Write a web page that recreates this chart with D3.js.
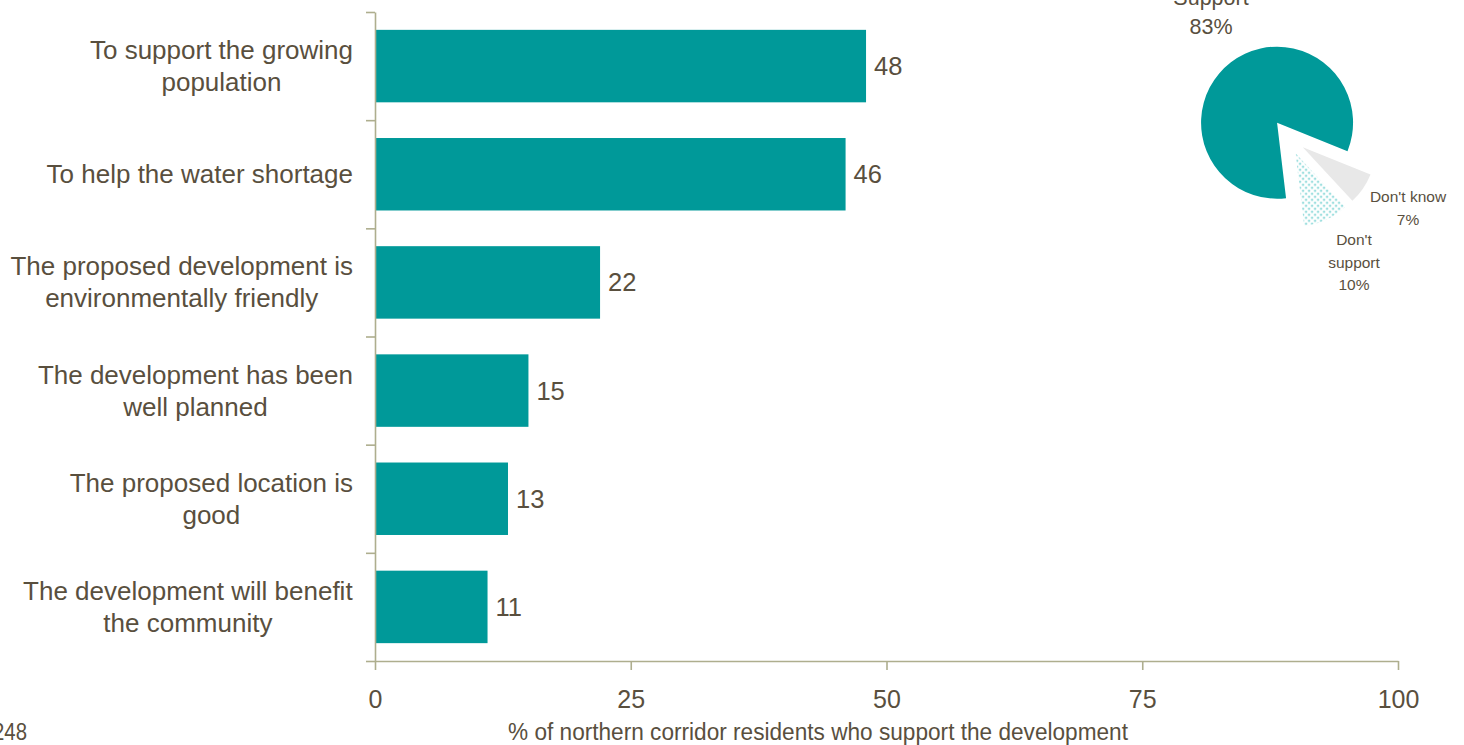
<!DOCTYPE html>
<html><head><meta charset="utf-8">
<script src="https://cdn.jsdelivr.net/npm/d3@7"></script>
<style>
html,body{margin:0;padding:0;background:#fff;}
svg{display:block;}
</style></head>
<body>
<svg id="chart" width="1464" height="745"></svg>
<script>
const categories = [
  ["To support the growing", "population"],
  ["To help the water shortage"],
  ["The proposed development is", "environmentally friendly"],
  ["The development has been", "well planned"],
  ["The proposed location is", "good"],
  ["The development will benefit", "the community"]
];
const values = [48, 46, 22, 15, 13, 11];
const xTicks = [0, 25, 50, 75, 100];
const axisTitle = "% of northern corridor residents who support the development";
const baseNote = "248";
const pieLabels = [["Don't know", "7%"], ["Don't", "support", "10%"], ["Support", "83%"]];
const pieValues = [7, 10, 83];

const teal = "#009999";
const textCol = "#594f3e";
const axisCol = "#aeae8e";
const font = "'Liberation Sans', Arial, sans-serif";

const svg = d3.select("#chart");
const defs = svg.append("defs");
const pat = defs.append("pattern").attr("id", "dots").attr("patternUnits", "userSpaceOnUse")
  .attr("width", 6).attr("height", 6);
pat.append("rect").attr("width", 6).attr("height", 6).attr("fill", "#fff");
pat.append("circle").attr("cx", 1.5).attr("cy", 1.5).attr("r", 0.9).attr("fill", "#4cc4c4");
pat.append("circle").attr("cx", 4.5).attr("cy", 4.5).attr("r", 0.9).attr("fill", "#4cc4c4");

const x = d3.scaleLinear().domain([0, 100]).range([375, 1398]);
const y = d3.scaleBand().domain(d3.range(categories.length)).range([12, 661]).paddingInner(0.33).paddingOuter(0.165);
const yEdge = d3.scaleLinear().domain([0, categories.length]).range([12, 661]);

// bars
svg.append("g").selectAll("rect").data(values).join("rect")
  .attr("x", x(0)).attr("y", (d, i) => y(i))
  .attr("width", d => x(d) - x(0)).attr("height", y.bandwidth())
  .attr("fill", teal);

// value labels
svg.append("g").selectAll("text").data(values).join("text")
  .attr("x", d => x(d) + 8).attr("y", (d, i) => y(i) + y.bandwidth() / 2 + 9)
  .attr("font-family", font).attr("font-size", 25.5).attr("fill", textCol)
  .text(d => d);

// y axis (ticks at band edges)
const yAxis = svg.append("g").attr("transform", `translate(${x(0)},0)`)
  .call(d3.axisLeft(yEdge).tickValues(d3.range(categories.length + 1)).tickSize(9).tickSizeOuter(0).tickFormat(""));
// x axis
const xAxis = svg.append("g").attr("transform", `translate(0,${yEdge(categories.length)})`)
  .call(d3.axisBottom(x).tickValues(xTicks).tickSize(9).tickSizeOuter(0).tickPadding(20));
[yAxis, xAxis].forEach(g => {
  g.selectAll("path,line").attr("stroke", axisCol).attr("stroke-width", 1.6);
});
xAxis.selectAll("text").attr("font-family", font).attr("font-size", 25).attr("fill", textCol);

// category labels (centered multi-line, right edge at 352)
const labG = svg.append("g");
categories.forEach((lines, i) => {
  const cy = y(i) + y.bandwidth() / 2;
  const t = labG.append("text").attr("font-family", font).attr("font-size", 26).attr("fill", textCol)
    .attr("text-anchor", "middle");
  const n = lines.length;
  lines.forEach((ln, j) => {
    t.append("tspan").attr("x", 0).attr("y", cy + (j - (n - 1) / 2) * 32 + 9).text(ln);
  });
  const w = t.node().getBBox().width;
  t.attr("transform", `translate(${353 - w / 2},0)`);
});

// axis title (condensed look)
svg.append("text").attr("x", 818).attr("y", 740).attr("text-anchor", "middle")
  .attr("font-family", font).attr("font-size", 23)
  .attr("textLength", 620).attr("lengthAdjust", "spacingAndGlyphs")
  .attr("fill", textCol).text(axisTitle);
svg.append("text").attr("x", 27).attr("y", 740).attr("text-anchor", "end")
  .attr("font-family", font).attr("font-size", 23)
  .attr("textLength", 34).attr("lengthAdjust", "spacingAndGlyphs")
  .attr("fill", textCol).text(baseNote);

// pie
const cx = 1288, cyP = 137, r = 76, explode = 18;
const start = 112 * Math.PI / 180;
const pie = d3.pie().sort(null).startAngle(start).endAngle(start + 2 * Math.PI);
const arcs = pie(pieValues);
const arc = d3.arc().innerRadius(0).outerRadius((d, i) => i === 2 ? r : r - 3);
const fills = ["#e8e8e8", "url(#dots)", teal];
const pg = svg.append("g").attr("transform", `translate(${cx},${cyP})`);
pg.selectAll("path").data(arcs).join("path")
  .attr("transform", d => {
    const a = (d.startAngle + d.endAngle) / 2;
    return `translate(${explode * Math.sin(a)},${-explode * Math.cos(a)})`;
  })
  .attr("d", (d, i) => arc(d, i)).attr("fill", (d, i) => fills[i]);

// pie labels
const labPos = [
  {x: 1408, y: 202, size: 15.5, gap: 23},
  {x: 1354, y: 245, size: 15.5, gap: 22.5},
  {x: 1211, y: 5, size: 21.5, gap: 29}
];
pieLabels.forEach((lines, i) => {
  const p = labPos[i];
  const t = svg.append("text").attr("font-family", font).attr("font-size", p.size)
    .attr("fill", textCol).attr("text-anchor", "middle");
  lines.forEach((ln, j) => t.append("tspan").attr("x", p.x).attr("y", p.y + j * p.gap).text(ln));
});
</script>
</body></html>
